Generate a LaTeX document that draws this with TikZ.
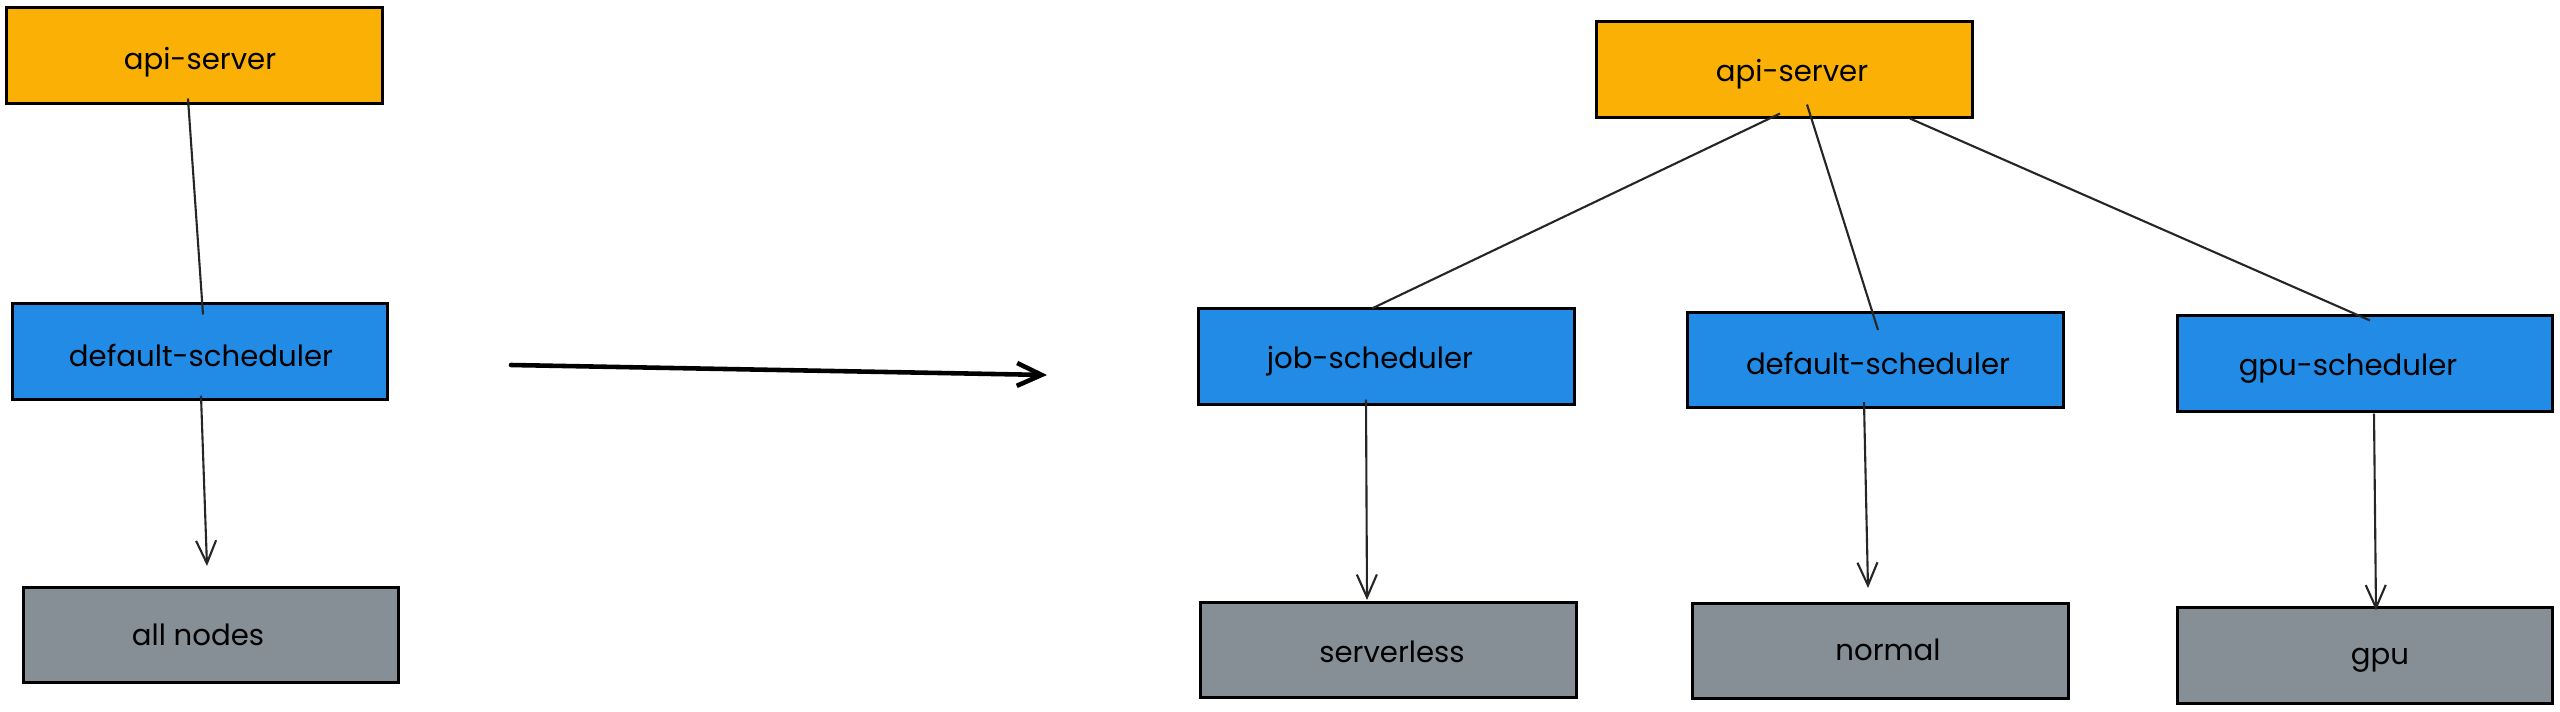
\documentclass[tikz,border=0pt]{standalone}
\usepackage{fontspec}
\setmainfont{Poppins}
\usetikzlibrary{arrows.meta,calc}
\definecolor{apiorange}{HTML}{FAB005}
\definecolor{schedblue}{HTML}{228BE6}
\definecolor{nodegray}{HTML}{868E96}
\tikzset{
  box/.style={draw=black, line width=0.85pt, minimum width=3.75cm, minimum height=0.95cm, inner sep=0pt},
  apibox/.style={box, fill=apiorange},
  schedbox/.style={box, fill=schedblue},
  graybox/.style={box, fill=nodegray},
  boxtext/.style={font=\fontsize{8.3pt}{10pt}\selectfont},
  link/.style={draw=black!85, line width=0.6pt},
  flow/.style={link, -{Straight Barb[length=6.5pt,width=5.7pt]}},
  bigflow/.style={draw=black, line width=1.3pt, line cap=round, -{Straight Barb[length=7pt,width=6.5pt]}}
}
\begin{document}
\begin{tikzpicture}[x=0.01cm, y=-0.01cm]
\useasboundingbox (0,0) rectangle (2560,712);
% left group
\node[apibox] (lapi) at (194.5,55.5) {};
\node[boxtext] at ($(lapi.center)+(5.5,7)$) {api-server};
\node[schedbox] (ldef) at (200,351.5) {};
\node[boxtext] at ($(ldef.center)+(1,4)$) {default-scheduler};
\node[graybox] (lall) at (211,635) {};
\node[boxtext] at ($(lall.center)+(-13,0)$) {all nodes};
% right group
\node[apibox] (rapi) at (1784.5,69.5) {};
\node[boxtext] at ($(rapi.center)+(7.5,4.5)$) {api-server};
\node[schedbox] (job) at (1386.5,356.5) {};
\node[boxtext] at ($(job.center)+(-16.5,4.5)$) {job-scheduler};
\node[schedbox] (rdef) at (1875.5,360) {};
\node[boxtext] at ($(rdef.center)+(2.5,3)$) {default-scheduler};
\node[schedbox] (gpus) at (2365,363.5) {};
\node[boxtext] at ($(gpus.center)+(-17,5)$) {gpu-scheduler};
\node[graybox] (srvl) at (1388.5,650) {};
\node[boxtext] at ($(srvl.center)+(3.5,2)$) {serverless};
\node[graybox] (norm) at (1880.5,651) {};
\node[boxtext] at ($(norm.center)+(7.5,-1)$) {normal};
\node[graybox] (gpu) at (2365,655.5) {};
\node[boxtext] at ($(gpu.center)+(15,5)$) {gpu};
% middle arrow
\coordinate (m1) at (511,365);
\coordinate (m2) at (1047,375);
\draw[bigflow] (m1) -- (m2);
% left connectors
\draw[link] ([shift={(-6.5,-6)}]lapi.south) -- ([shift={(3,12)}]ldef.north);
\draw[flow] ([shift={(1,-5)}]ldef.south) -- ([shift={(-4,-20)}]lall.north);
% right connectors
\draw[link] ([shift={(-4.5,-5)}]rapi.south) -- ([shift={(-14.5,1)}]job.north);
\draw[link] ([shift={(22.5,-14)}]rapi.south) -- ([shift={(2.5,19)}]rdef.north);
\draw[link] ([shift={(125.5,0)}]rapi.south) -- ([shift={(5,6)}]gpus.north);
\draw[flow] ([shift={(-20.5,-6)}]job.south) -- ([shift={(-21.5,-1)}]srvl.north);
\draw[flow] ([shift={(-11.5,-7)}]rdef.south) -- ([shift={(-12.5,-14)}]norm.north);
\draw[flow] ([shift={(9,1)}]gpus.south) -- ([shift={(11,4)}]gpu.north);
\end{tikzpicture}
\end{document}
